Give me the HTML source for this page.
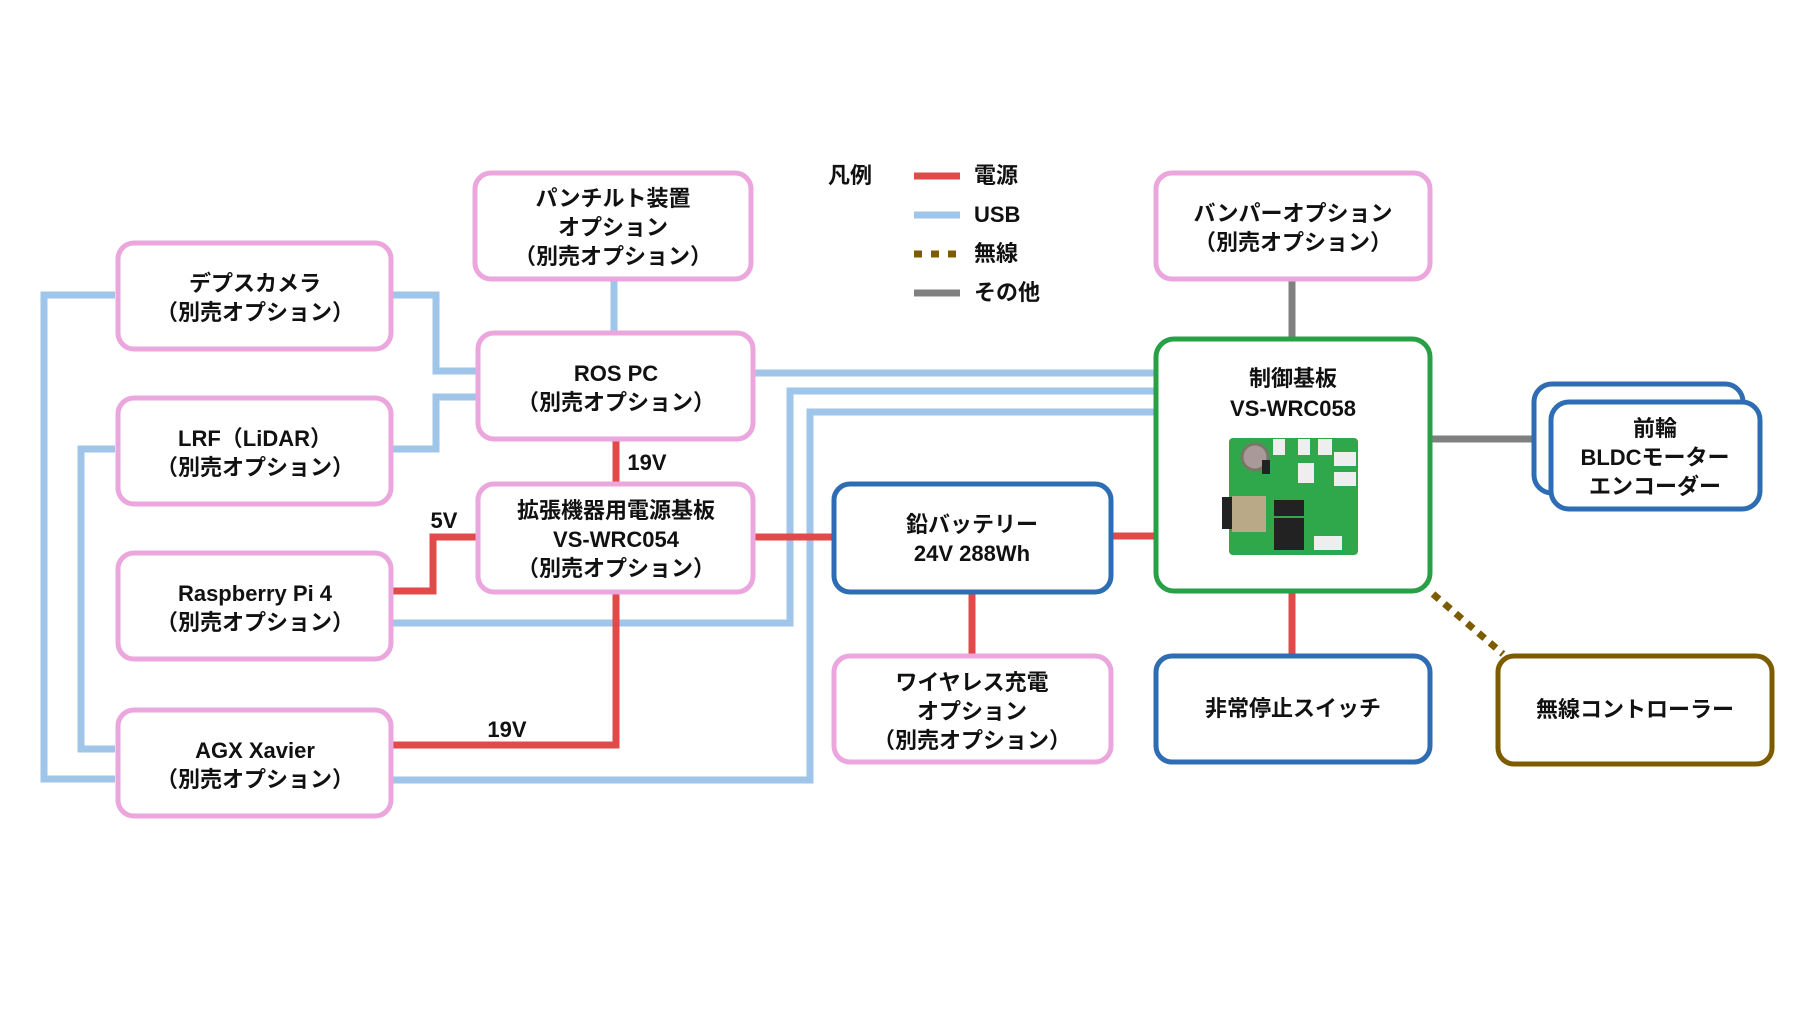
<!DOCTYPE html>
<html><head><meta charset="utf-8"><style>
html,body{margin:0;padding:0;background:#fff;}
svg{display:block}
text{font-family:"Liberation Sans","Noto Sans CJK JP",sans-serif;font-weight:bold;font-size:22px;fill:#111;text-anchor:middle;}
.l{text-anchor:start}
</style></head><body>
<svg width="1814" height="1021" viewBox="0 0 1814 1021" xmlns="http://www.w3.org/2000/svg">
<g fill="none" stroke-width="7">
<!-- USB -->
<g stroke="#9fc5e8">
<polyline points="115,295 44,295 44,779 115,779"/>
<polyline points="115,449 81,449 81,749 115,749"/>
<polyline points="391,295 436,295 436,371 476,371"/>
<polyline points="391,449 436,449 436,397 476,397"/>
<line x1="614" y1="279" x2="614" y2="331"/>
<line x1="753" y1="373" x2="1154" y2="373"/>
<polyline points="391,623 790,623 790,391 1154,391"/>
<polyline points="391,780 810,780 810,412 1154,412"/>
</g>
<!-- power -->
<g stroke="#e24a4a">
<line x1="616" y1="438" x2="616" y2="482"/>
<polyline points="391,591 433,591 433,537 476,537"/>
<polyline points="616,592 616,745 391,745"/>
<line x1="753" y1="537" x2="832" y2="537"/>
<line x1="1111" y1="536" x2="1154" y2="536"/>
<line x1="972" y1="592" x2="972" y2="654"/>
<line x1="1292" y1="591" x2="1292" y2="654"/>
</g>
<!-- other -->
<g stroke="#808080">
<line x1="1292" y1="279" x2="1292" y2="337"/>
<line x1="1430" y1="439" x2="1532" y2="439"/>
</g>
<line x1="1433" y1="594" x2="1503" y2="654" stroke="#7d5c00" stroke-dasharray="8,7"/>
</g>
<!-- boxes -->
<g fill="#fff" stroke-width="5">
<g stroke="#eba6dd">
<rect x="118" y="243" width="273" height="106" rx="16"/>
<rect x="118" y="398" width="273" height="106" rx="16"/>
<rect x="118" y="553" width="273" height="106" rx="16"/>
<rect x="118" y="710" width="273" height="106" rx="16"/>
<rect x="475" y="173" width="276" height="106" rx="16"/>
<rect x="478" y="333" width="275" height="106" rx="16"/>
<rect x="478" y="484" width="275" height="108" rx="16"/>
<rect x="834" y="656" width="277" height="106" rx="16"/>
<rect x="1156" y="173" width="274" height="106" rx="16"/>
</g>
<g stroke="#2e6db4">
<rect x="834" y="484" width="277" height="108" rx="16"/>
<rect x="1156" y="656" width="274" height="106" rx="16"/>
<rect x="1534" y="384" width="209" height="109" rx="18"/>
<rect x="1551" y="402" width="209" height="107" rx="18"/>
</g>
<rect x="1156" y="339" width="274" height="252" rx="18" stroke="#27a046"/>
<rect x="1498" y="656" width="274" height="108" rx="16" stroke="#7d5c00"/>
</g>
<!-- board image -->
<g>
<rect x="1229" y="438" width="129" height="117" rx="4" fill="#2ea84a"/>
<rect x="1222" y="497" width="12" height="32" fill="#222"/>
<rect x="1232" y="496" width="34" height="36" fill="#b9a986"/>
<circle cx="1255" cy="457" r="13" fill="#a99" stroke="#776" stroke-width="3"/>
<rect x="1273" y="439" width="12" height="16" fill="#eee"/>
<rect x="1298" y="439" width="12" height="16" fill="#eee"/>
<rect x="1318" y="439" width="14" height="16" fill="#eee"/>
<rect x="1334" y="452" width="22" height="14" fill="#eee"/>
<rect x="1334" y="472" width="22" height="14" fill="#eee"/>
<rect x="1298" y="463" width="16" height="20" fill="#eee"/>
<rect x="1296" y="462" width="0" height="0"/>
<rect x="1274" y="500" width="30" height="16" fill="#222"/>
<rect x="1274" y="518" width="30" height="32" fill="#222"/>
<rect x="1314" y="536" width="28" height="14" fill="#eee"/>
<rect x="1262" y="460" width="8" height="14" fill="#222"/>
</g>
<!-- labels -->
<text x="255" y="291">デプスカメラ</text><text x="255" y="320">（別売オプション）</text>
<text x="255" y="446">LRF（LiDAR）</text><text x="255" y="475">（別売オプション）</text>
<text x="255" y="601">Raspberry Pi 4</text><text x="255" y="630">（別売オプション）</text>
<text x="255" y="758">AGX Xavier</text><text x="255" y="787">（別売オプション）</text>
<text x="613" y="206">パンチルト装置</text><text x="613" y="235">オプション</text><text x="613" y="264">（別売オプション）</text>
<text x="616" y="381">ROS PC</text><text x="616" y="410">（別売オプション）</text>
<text x="616" y="518">拡張機器用電源基板</text><text x="616" y="547">VS-WRC054</text><text x="616" y="576">（別売オプション）</text>
<text x="972" y="532">鉛バッテリー</text><text x="972" y="561">24V 288Wh</text>
<text x="972" y="690">ワイヤレス充電</text><text x="972" y="719">オプション</text><text x="972" y="748">（別売オプション）</text>
<text x="1293" y="221">バンパーオプション</text><text x="1293" y="250">（別売オプション）</text>
<text x="1293" y="386">制御基板</text><text x="1293" y="416">VS-WRC058</text>
<text x="1293" y="716">非常停止スイッチ</text>
<text x="1635" y="717">無線コントローラー</text>
<text x="1655" y="436">前輪</text><text x="1655" y="465">BLDCモーター</text><text x="1655" y="494">エンコーダー</text>
<text x="647" y="470">19V</text>
<text x="444" y="528">5V</text>
<text x="507" y="737">19V</text>
<!-- legend -->
<text x="850" y="183">凡例</text>
<g stroke-width="7">
<line x1="914" y1="176" x2="960" y2="176" stroke="#e24a4a"/>
<line x1="914" y1="215" x2="960" y2="215" stroke="#9fc5e8"/>
<line x1="914" y1="254" x2="960" y2="254" stroke="#7d5c00" stroke-dasharray="8,9"/>
<line x1="914" y1="293" x2="960" y2="293" stroke="#808080"/>
</g>
<text class="l" x="974" y="183">電源</text>
<text class="l" x="974" y="222">USB</text>
<text class="l" x="974" y="261">無線</text>
<text class="l" x="974" y="300">その他</text>
</svg>
</body></html>
